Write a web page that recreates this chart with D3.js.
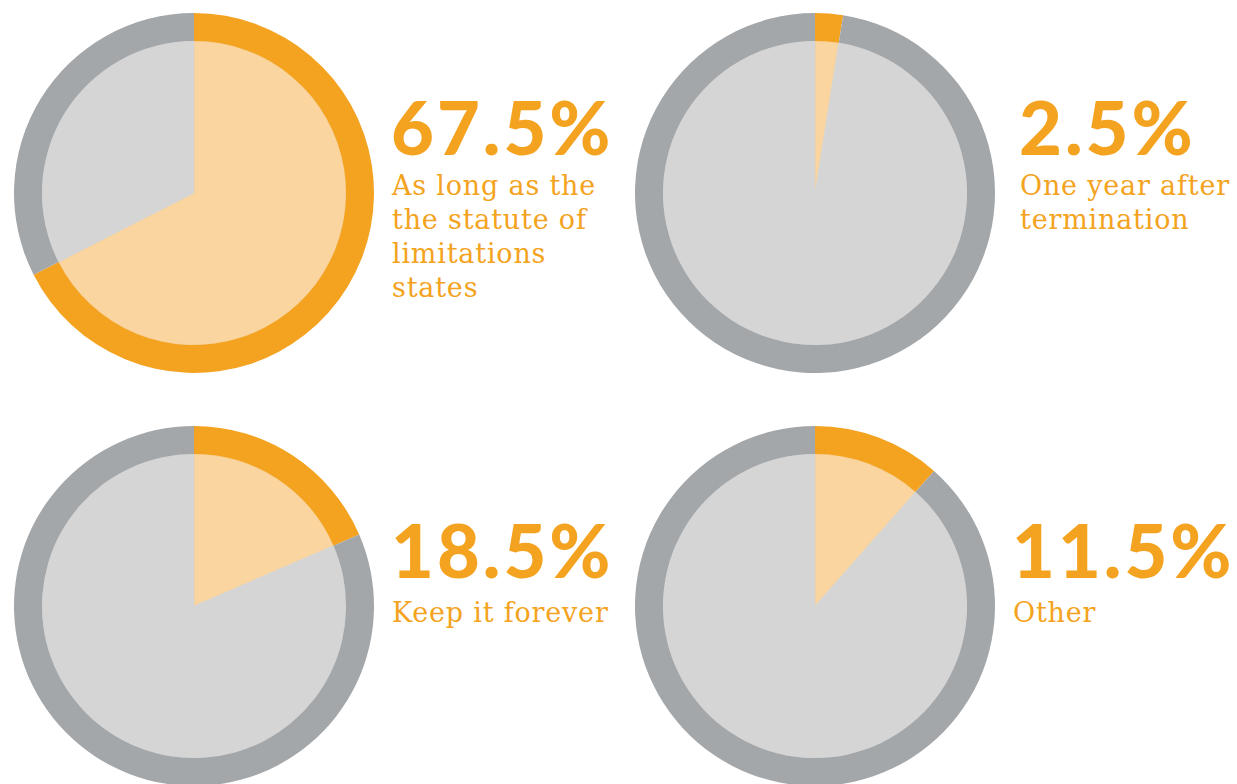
<!DOCTYPE html>
<html>
<head>
<meta charset="utf-8">
<script src="https://cdn.jsdelivr.net/npm/d3@7"></script>
<style>
  body { margin: 0; background: #fff; }
  svg { display: block; }
</style>
</head>
<body>
<div class="canvas"></div>
<script>
// chart data
const shares = [67.5, 2.5, 18.5, 11.5];
const valueLabels = ["67.5%", "2.5%", "18.5%", "11.5%"];
const captions = [
  ["As long as the", "the statute of", "limitations", "states"],
  ["One year after", "termination"],
  ["Keep it forever"],
  ["Other"]
];

const width = 1237, height = 784;
const outerR = 180, innerR = 152;
const orange = "#f4a320", lightOrange = "#fad59f";
const grey = "#a4a7aa", lightGrey = "#d5d5d5";

// grid of 2 x 2 pies
const col = d3.scaleOrdinal().domain([0, 1]).range([194, 815]);
const row = d3.scaleOrdinal().domain([0, 1]).range([193, 606]);
// small horizontal nudges for the label blocks
const nudge = [0, 7, 0, 0];

const svg = d3.select(".canvas")
  .append("svg")
    .attr("width", width)
    .attr("height", height);

const pie = d3.pie().sort(null).value(d => d);
const ring = d3.arc().innerRadius(innerR).outerRadius(outerR);
const fill = d3.arc().innerRadius(0).outerRadius(innerR);

shares.forEach((v, i) => {
  const cx = col(i % 2), cy = row(Math.floor(i / 2));
  const arcs = pie([v, 100 - v]);

  const g = svg.append("g")
    .attr("transform", `translate(${cx},${cy})`);

  g.selectAll("path.fill")
    .data(arcs)
    .join("path")
      .attr("class", "fill")
      .attr("d", fill)
      .attr("fill", (d, j) => j === 0 ? lightOrange : lightGrey)
      .attr("stroke", (d, j) => j === 0 ? "#f2c98e" : lightGrey)
      .attr("stroke-width", 0.6);

  g.selectAll("path.ring")
    .data(arcs)
    .join("path")
      .attr("class", "ring")
      .attr("d", ring)
      .attr("fill", (d, j) => j === 0 ? orange : grey);

  // labels to the right of each pie
  const tx = cx + outerR + 18 + nudge[i];
  const top = i < 2 ? 155 : 578;
  const gap = i < 2 ? 40 : 44;

  svg.append("text")
    .attr("x", tx - 1)
    .attr("y", top)
    .attr("fill", orange)
    .attr("font-family", "Lato")
    .attr("font-weight", 900)
    .attr("font-size", 74)
    .attr("letter-spacing", 3)
    .text(valueLabels[i]);

  svg.append("g")
    .selectAll("text")
    .data(captions[i])
    .join("text")
      .attr("x", tx)
      .attr("y", (d, k) => top + gap + k * 34)
      .attr("fill", orange)
      .attr("font-family", "DejaVu Serif")
      .attr("font-size", 27)
      .attr("letter-spacing", 0.8)
      .text(d => d);
});
</script>
</body>
</html>
